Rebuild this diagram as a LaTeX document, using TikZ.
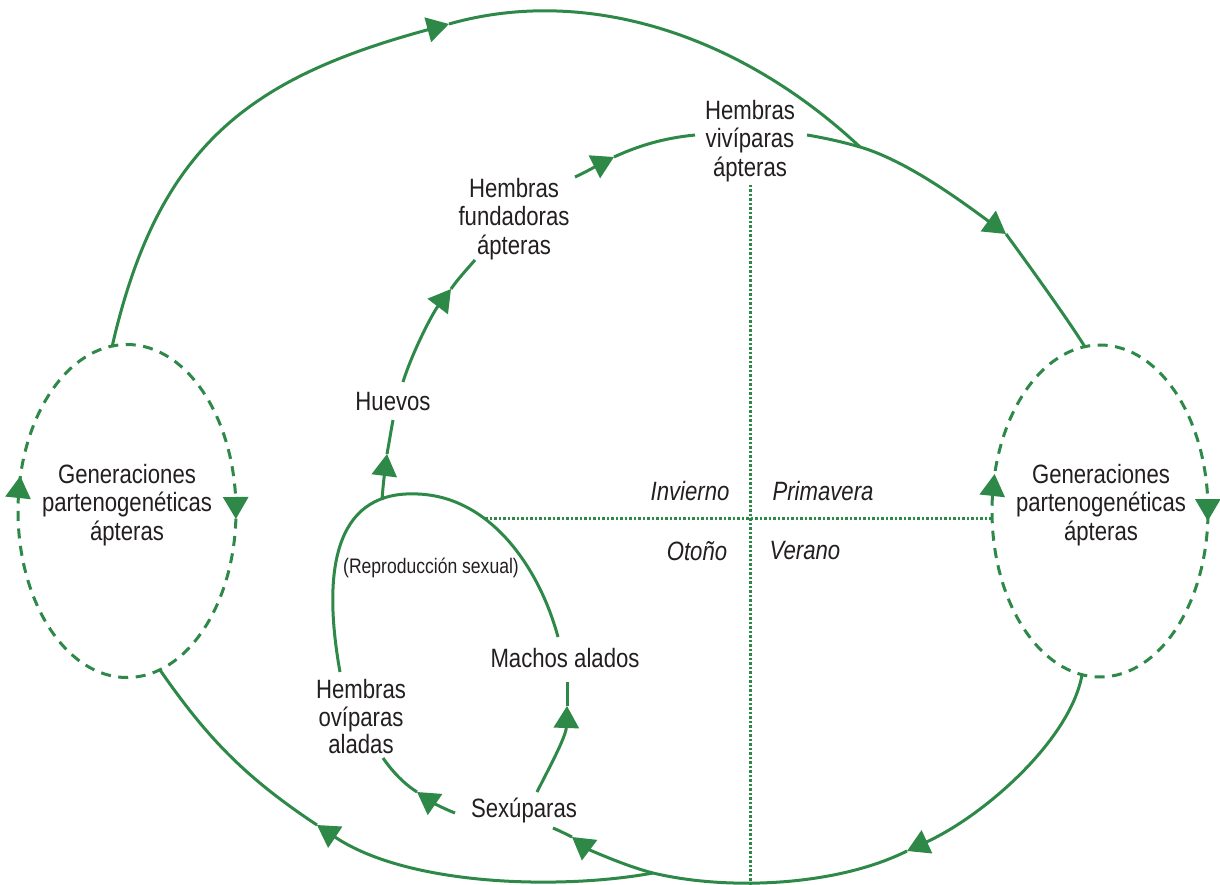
\documentclass[tikz,border=0pt]{standalone}
\usepackage{fontspec}
\setmainfont{Liberation Sans}[FakeStretch=0.836]
\usetikzlibrary{arrows.meta}
\definecolor{gr}{RGB}{46,137,72}
\definecolor{tx}{RGB}{35,31,32}
\begin{document}
\begin{tikzpicture}[x=1pt,y=1pt,
  line/.style={draw=gr, line width=3pt},
  arr/.style={line, -{Triangle[length=22pt,width=25pt]}},
  dashline/.style={draw=gr, line width=3pt, dash pattern=on 10pt off 7.5pt},
  dotline/.style={draw=gr, line width=3pt, dash pattern=on 2.5pt off 2pt},
  lbl/.style={text=tx, font=\fontsize{26.5}{28.5}\selectfont, align=center, inner sep=2pt},
  lblo/.style={text=tx, font=\fontsize{26.5}{27.5}\selectfont, align=center, inner sep=2pt},
  itl/.style={text=tx, font=\fontsize{26.5}{28.5}\selectfont\itshape, inner sep=2pt},
  smalllbl/.style={text=tx, font=\fontsize{21}{24}\selectfont, inner sep=2pt}]

\useasboundingbox[fill=white] (0,0) rectangle (1220,-885);

% ---------- quadrant dividers
\coordinate (dvT) at (750,-185);
\coordinate (dvB) at (750,-890);
\coordinate (dhL) at (485,-518);
\coordinate (dhR) at (993,-518);
\draw[dotline] (dvT) -- (dvB);
\draw[dotline] (dhL) -- (dhR);

% ---------- text nodes
\node[lbl] (gl) at (127,-505) {Generaciones\\partenogenéticas\\ápteras};
\node[lbl] (gright) at (1101,-505) {Generaciones\\partenogenéticas\\ápteras};
\node[lbl] (viv) at (750,-141) {Hembras\\vivíparas\\ápteras};
\node[lbl] (fun) at (514,-219) {Hembras\\fundadoras\\ápteras};
\node[lbl] (hue) at (393,-402) {Huevos};
\node[lbl] (mach) at (565,-658) {Machos alados};
\node[lblo] (ovi) at (361,-717) {Hembras\\ovíparas\\aladas};
\node[lbl] (sex) at (524,-810) {Sexúparas};
\node[smalllbl] (rep) at (431,-568) {(Reproducción sexual)};
\node[itl] (inv) at (690,-491) {Invierno};
\node[itl] (pri) at (823,-491) {Primavera};
\node[itl] (oto) at (697,-551) {Otoño};
\node[itl] (ver) at (805,-551) {Verano};

% ---------- dashed ellipses
\draw[dashline] (127,-511) ellipse [x radius=109, y radius=166.5];
\draw[dashline] (1100,-511) ellipse [x radius=108, y radius=166];
\draw[arr] (18.0,-498) -- (20.3,-476);
\draw[arr] (235.7,-497) -- (235.9,-519);
\draw[arr] (992.2,-496) -- (994.6,-474);
\draw[arr] (1207.8,-499) -- (1207.8,-521);

% ---------- coordinates
\coordinate (LT) at (112,-347);
\coordinate (LB) at (160,-670);
\coordinate (RT) at (1085,-347);
\coordinate (RB) at (1082,-675);
\coordinate (PT) at (449,-24);
\coordinate (J) at (860,-147);
\coordinate (VR) at (807,-135);
\coordinate (PV) at (1006,-234);
\coordinate (PR) at (907,-851);
\coordinate (M) at (653,-873);
\coordinate (PS) at (572,-837);
\coordinate (SR) at (553,-828);
\coordinate (PL) at (317,-825);
\coordinate (E1) at (382,-500);
\coordinate (PH) at (387,-454);
\coordinate (HB) at (393,-420);
\coordinate (HT) at (403,-382);
\coordinate (PF) at (451,-289);
\coordinate (FB) at (475,-260);
\coordinate (FT) at (575,-177);
\coordinate (PG) at (614,-157);
\coordinate (VL) at (695,-135);
\coordinate (OT) at (340,-672);
\coordinate (ST) at (418,-494);
\coordinate (MA) at (558,-637);
\coordinate (SX1) at (537,-792);
\coordinate (PM) at (567,-706);
\coordinate (MB) at (567,-682);
\coordinate (SX2) at (455,-813);
\coordinate (PO) at (417,-792);
\coordinate (OB) at (383,-758);

% ---------- top big arc
\draw[arr] (LT) .. controls (158,-145) and (250,-78) .. (PT);
\draw[line] (PT) .. controls (582,14) and (736,-31) .. (J);
% viviparas -> right ellipse
\draw[line] (VR) .. controls (825,-138) and (843,-142) .. (J);
\draw[arr] (J) .. controls (908,-161) and (965,-204) .. (PV);
\draw[line] (PV) .. controls (1025,-260) and (1067,-318) .. (RT);

% ---------- bottom arcs
\draw[arr] (RB) .. controls (1070,-740) and (985,-815) .. (PR);
\draw[line] (PR) .. controls (837,-886) and (728,-891) .. (M);
\draw[arr] (M) .. controls (625,-866) and (588,-849) .. (PS);
\draw[line] (PS) .. controls (566,-834) and (560,-831) .. (SR);
\draw[arr] (M) .. controls (560,-890) and (408,-886) .. (PL);
\draw[line] (PL) .. controls (243,-776) and (206,-736) .. (LB);

% ---------- inner chain
\draw[arr] (E1) .. controls (383,-485) and (385,-470) .. (PH);
\draw[line] (PH) .. controls (389,-443) and (391,-431) .. (HB);
\draw[arr] (HT) .. controls (412,-353) and (432,-314) .. (PF);
\draw[line] (PF) .. controls (457,-280) and (468,-268) .. (FB);
\draw[arr] (FT) .. controls (588,-171) and (600,-164) .. (PG);
\draw[line] (PG) .. controls (640,-145) and (665,-138) .. (VL);

% ---------- sexual loop
\draw[line] (OT) .. controls (320,-560) and (340,-490) .. (ST);
\draw[line] (ST) .. controls (492,-497) and (540,-570) .. (MA);
\draw[arr] (SX1) .. controls (548,-770) and (566,-737) .. (PM);
\draw[line] (PM) .. controls (567,-698) and (567,-690) .. (MB);
\draw[arr] (SX2) .. controls (442,-808) and (430,-801) .. (PO);
\draw[line] (PO) .. controls (403,-783) and (392,-771) .. (OB);
\end{tikzpicture}
\end{document}
